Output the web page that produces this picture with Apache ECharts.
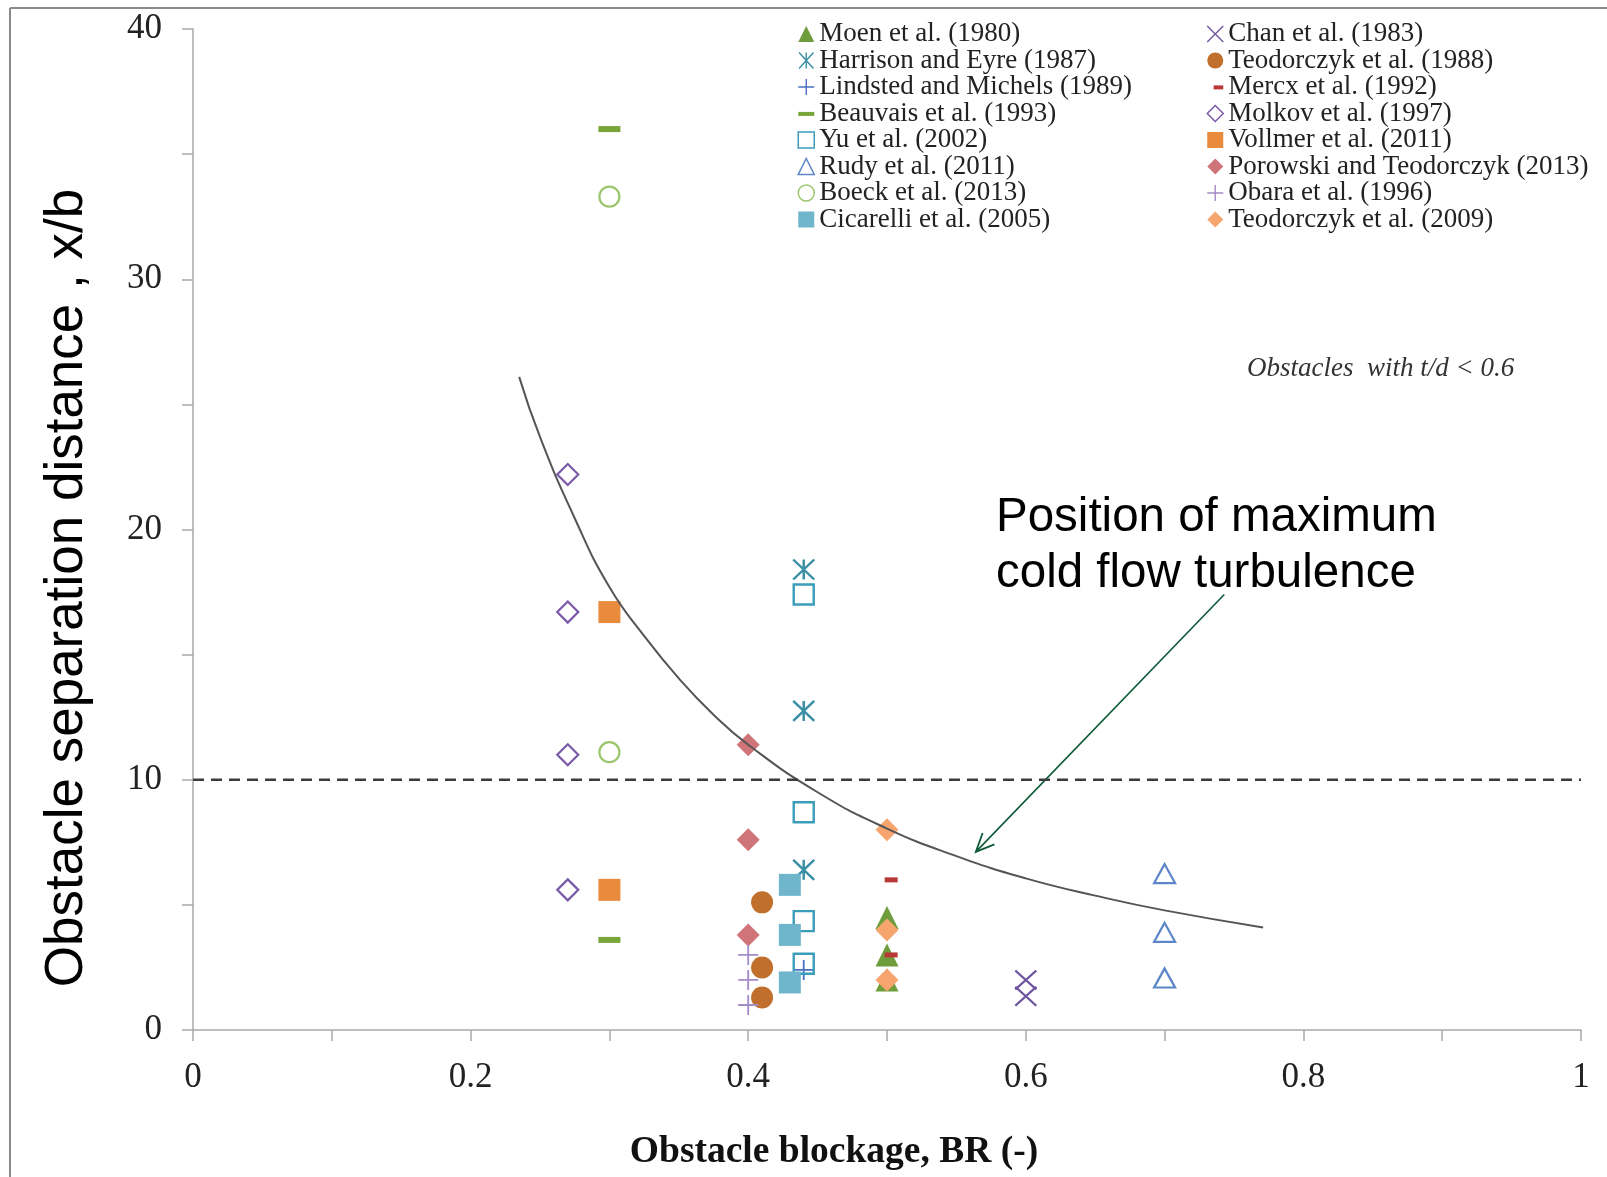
<!DOCTYPE html>
<html><head><meta charset="utf-8">
<script src="https://cdn.jsdelivr.net/npm/echarts@6/dist/echarts.min.js"></script>
<style>html,body{margin:0;padding:0;background:#fff}#c{width:1607px;height:1177px}</style>
</head><body><div id="c"></div>
<script>
// ---- data ----
const moen      = [[0.5,4.5],[0.5,3.0],[0.5,2.0]];
const chan      = [[0.6,2.0],[0.6,1.35]];
const harrison  = [[0.44,18.4],[0.44,12.75],[0.44,6.4]];
const teod88    = [[0.41,5.1],[0.41,2.5],[0.41,1.3]];
const lindsted  = [[0.44,2.4]];
const mercx     = [[0.503,6.0],[0.503,3.0]];
const beauvais  = [[0.3,36.0],[0.3,3.6]];
const molkov    = [[0.27,22.2],[0.27,16.7],[0.27,11.0],[0.27,5.6]];
const yu        = [[0.44,17.4],[0.44,8.7],[0.44,4.35],[0.44,2.65]];
const vollmer   = [[0.3,16.7],[0.3,5.6]];
const rudy      = [[0.7,6.25],[0.7,3.9],[0.7,2.08]];
const porowski  = [[0.4,11.4],[0.4,7.6],[0.4,3.8]];
const boeck     = [[0.3,33.3],[0.3,11.1]];
const obara     = [[0.4,3.0],[0.4,2.0],[0.4,1.0]];
const cicarelli = [[0.43,5.8],[0.43,3.8],[0.43,1.9]];
const teod09    = [[0.5,8.0],[0.5,4.0],[0.5,2.0]];
const turbCurve = [[0.235,26.1],[0.25,23.7],[0.275,20.45],[0.3,17.7],[0.325,15.75],[0.35,14.05],[0.375,12.6],[0.4,11.4],[0.45,9.5],[0.5,8.05],[0.55,6.95],[0.6,6.06],[0.65,5.37],[0.7,4.78],[0.771,4.1]];
const refLine   = [[0,10],[1,10]];
const arrowFrom = [0.743,17.4];
const arrowTo   = [0.564,7.12];
const xTickLabels = ['0','0.2','0.4','0.6','0.8','1'];
const yTickLabels = ['0','10','20','30','40'];

const PLUS = 'path://M0,5L10,5M5,0L5,10';
const CROSS = 'path://M0,0L10,10M10,0L0,10';
const STAR = 'path://M0.5,0L9.5,10M9.5,0L0.5,10M5,0L5,10';
const DASH = 'path://M0,0L0,0M0,4L10,4L10,6.5L0,6.5ZM10,10L10,10';
const DASH_S = 'path://M0,0L0,0M4,4L10,4L10,6.5L4,6.5ZM10,10L10,10';
const T = 'rgba(0,0,0,0)';

function filled(name, data, symbol, size, color) {
  return {name, type:'scatter', data, symbol, symbolSize:size, itemStyle:{color, opacity:1}, z:2};
}
function open(name, data, symbol, size, color, bw) {
  return {name, type:'scatter', data, symbol, symbolSize:size, itemStyle:{color:T, borderColor:color, borderWidth:bw, opacity:1}, z:2};
}

const C = {
  moen:'#6f9c3c', chan:'#6e55a0', harrison:'#3a8fa5', teod88:'#c0702c', lindsted:'#4a70c2',
  mercx:'#b83838', beauvais:'#77a53a', molkov:'#7a5aa8', yu:'#3a9dba', vollmer:'#e98b3c',
  rudy:'#5b86c8', porowski:'#cf7479', boeck:'#9cc66e', obara:'#a38ac8', cicarelli:'#6fb6cc', teod09:'#f7a56e'
};

const series = [
  filled('Moen et al. (1980)', moen, 'triangle', 23, C.moen),
  open('Chan et al. (1983)', chan, CROSS, [21,19], C.chan, 2.2),
  open('Harrison and Eyre (1987)', harrison, STAR, [21,20], C.harrison, 2.4),
  filled('Teodorczyk et al. (1988)', teod88, 'circle', 22, C.teod88),
  open('Lindsted and Michels (1989)', lindsted, PLUS, 20, C.lindsted, 1.8),
  filled('Mercx et al. (1992)', mercx, 'rect', [13,5], C.mercx),
  filled('Beauvais et al. (1993)', beauvais, 'rect', [22,6], C.beauvais),
  open('Molkov et al. (1997)', molkov, 'diamond', 21, C.molkov, 2.2),
  open('Yu et al. (2002)', yu, 'rect', 20, C.yu, 2.4),
  filled('Vollmer et al. (2011)', vollmer, 'rect', 22, C.vollmer),
  open('Rudy et al. (2011)', rudy, 'triangle', [21,19], C.rudy, 2.2),
  filled('Porowski and Teodorczyk (2013)', porowski, 'diamond', 23, C.porowski),
  open('Boeck et al. (2013)', boeck, 'circle', 20, C.boeck, 2.2),
  open('Obara et al. (1996)', obara, PLUS, 20, C.obara, 1.8),
  filled('Cicarelli et al. (2005)', cicarelli, 'rect', 22, C.cicarelli),
  filled('Teodorczyk et al. (2009)', teod09, 'diamond', 23, C.teod09),
  {name:'curve', type:'line', data:turbCurve, smooth:0.5, symbol:'none', lineStyle:{color:'#555', width:2}, z:4, silent:true},
  {name:'ref', type:'line', data:refLine, symbol:'none', lineStyle:{color:'#3c3c3c', width:2.7, type:[11,7]}, z:4, silent:true}
];

function li(name, icon, color, isOpen, bw) {
  return {name, icon, itemStyle: isOpen ? {color:T, borderColor:color, borderWidth:bw||1.5} : {color, borderWidth:0}};
}
const legendLeft = [
  li('Moen et al. (1980)', 'triangle', C.moen),
  li('Harrison and Eyre (1987)', STAR, C.harrison, true, 1.4),
  li('Lindsted and Michels (1989)', PLUS, C.lindsted, true, 1.4),
  li('Beauvais et al. (1993)', DASH, C.beauvais),
  li('Yu et al. (2002)', 'rect', C.yu, true, 1.5),
  li('Rudy et al. (2011)', 'triangle', C.rudy, true, 1.5),
  li('Boeck et al. (2013)', 'circle', C.boeck, true, 1.5),
  li('Cicarelli et al. (2005)', 'rect', C.cicarelli)
];
const legendRight = [
  li('Chan et al. (1983)', CROSS, C.chan, true, 1.4),
  li('Teodorczyk et al. (1988)', 'circle', C.teod88),
  li('Mercx et al. (1992)', DASH_S, C.mercx),
  li('Molkov et al. (1997)', 'diamond', C.molkov, true, 1.5),
  li('Vollmer et al. (2011)', 'rect', C.vollmer),
  li('Porowski and Teodorczyk (2013)', 'diamond', C.porowski),
  li('Obara et al. (1996)', PLUS, C.obara, true, 1.4),
  li('Teodorczyk et al. (2009)', 'diamond', C.teod09)
];
const legendText = {fontFamily:'Liberation Serif', fontSize:27, color:'#222', lineHeight:26.5};
function legendAt(left, data) {
  return {orient:'vertical', left, top:20.5, padding:0, itemGap:-0.5, itemWidth:16, itemHeight:16,
          selectedMode:false, textStyle:legendText, data};
}

const axisGray = '#a9a9a9';
const labelFont = {fontFamily:'Liberation Serif', fontSize:35, color:'#222'};

const chart = echarts.init(document.getElementById('c'), null, {renderer:'canvas'});
chart.setOption({
  animation:false,
  backgroundColor:'#fff',
  grid:{left:193, right:26, top:29, bottom:147, containLabel:false},
  xAxis:{type:'value', min:0, max:1, interval:0.1,
    axisLine:{show:true, onZero:false, lineStyle:{color:axisGray, width:1.5}},
    axisTick:{show:true, inside:false, length:11, lineStyle:{color:axisGray, width:1.5}},
    splitLine:{show:false},
    axisLabel:Object.assign({margin:30, formatter:function(v){const k=Math.round(v*10);return k%2===0?xTickLabels[k/2]:'';}}, labelFont)
  },
  yAxis:{type:'value', min:0, max:40, interval:5,
    axisLine:{show:true, onZero:false, lineStyle:{color:axisGray, width:1.5}},
    axisTick:{show:true, inside:false, length:11, lineStyle:{color:axisGray, width:1.5}},
    splitLine:{show:false},
    axisLabel:Object.assign({margin:31, formatter:function(v){return v%10===0?yTickLabels[v/10]:'';}}, labelFont)
  },
  legend:[legendAt(797.5, legendLeft), legendAt(1206.5, legendRight)],
  series,
  graphic:[
    {type:'line', shape:{x1:10, y1:8, x2:1607, y2:8}, style:{stroke:'#8a8a8a', lineWidth:2}, silent:true},
    {type:'line', shape:{x1:10, y1:8, x2:10, y2:1177}, style:{stroke:'#8a8a8a', lineWidth:2}, silent:true},
    {type:'text', x:67, y:588, rotation:Math.PI/2, silent:true,
      style:{text:'Obstacle separation distance , x/b', fontFamily:'Liberation Sans', fontSize:53, fill:'#000', align:'center', verticalAlign:'middle'}},
    {type:'text', x:834, y:1152, silent:true,
      style:{text:'Obstacle blockage, BR (-)', fontFamily:'Liberation Serif', fontWeight:'bold', fontSize:37.5, fill:'#111', align:'center', verticalAlign:'middle'}},
    {type:'text', x:996, y:518, silent:true,
      style:{text:'Position of maximum', fontFamily:'Liberation Sans', fontSize:47.5, fill:'#000', align:'left', verticalAlign:'middle'}},
    {type:'text', x:996, y:574, silent:true,
      style:{text:'cold flow turbulence', fontFamily:'Liberation Sans', fontSize:47.5, fill:'#000', align:'left', verticalAlign:'middle'}},
    {type:'text', x:1247, y:369, silent:true,
      style:{text:'Obstacles  with t/d < 0.6', fontFamily:'Liberation Serif', fontStyle:'italic', fontSize:27, fill:'#333', align:'left', verticalAlign:'middle'}}
  ]
});

// arrow annotation, positioned through the axes
const p0 = chart.convertToPixel({gridIndex:0}, arrowFrom);
const p1 = chart.convertToPixel({gridIndex:0}, arrowTo);
const ang = Math.atan2(p0[1]-p1[1], p0[0]-p1[0]);
const L = 20, spread = 0.42;
const a1 = [p1[0]+L*Math.cos(ang+spread), p1[1]+L*Math.sin(ang+spread)];
const a2 = [p1[0]+L*Math.cos(ang-spread), p1[1]+L*Math.sin(ang-spread)];
chart.setOption({graphic:[
  {type:'line', id:'arrowShaft', shape:{x1:p0[0], y1:p0[1], x2:p1[0], y2:p1[1]}, style:{stroke:'#0c5a38', lineWidth:1.6}, silent:true},
  {type:'polyline', id:'arrowHead', shape:{points:[a1, p1, a2]}, style:{stroke:'#0c5a38', lineWidth:1.8, fill:null}, silent:true}
]});
</script>
</body></html>
